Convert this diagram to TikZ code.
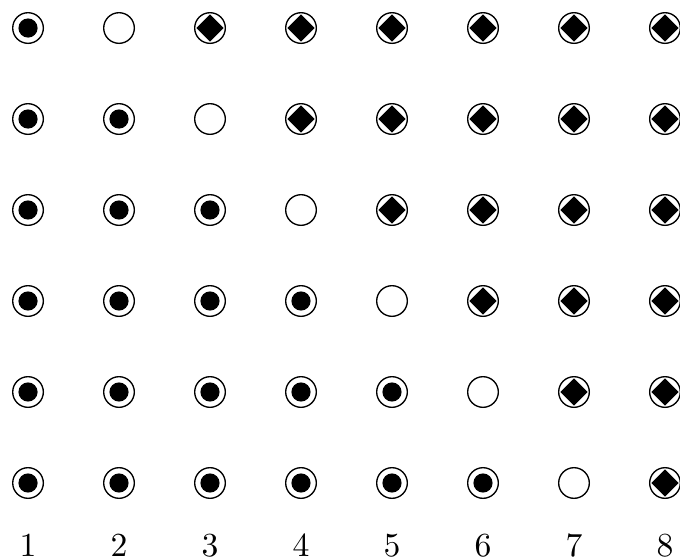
\documentclass[tikz,border=0pt]{standalone}
\usetikzlibrary{shapes.geometric}

\begin{document}
\begin{tikzpicture}[
  x=0.95cm, y=0.95cm,
  ring/.style={draw, circle, inner sep=0pt, minimum size=3.2mm},
  dot/.style={circle, fill=black, inner sep=0pt, minimum size=2mm},
  gem/.style={diamond, fill=black, inner sep=0pt, minimum size=2.9mm},
  num/.style={inner sep=0pt}
]
  \useasboundingbox (-0.308,-0.824) rectangle (7.165,5.308);

  % rings, row 1 on top; the empty one walks along the diagonal
  \foreach \r in {1,...,6}{
    \foreach \c in {1,...,8}{
      \node[ring] (p-\r-\c) at (\c-1,6-\r) {};
      \ifnum\c<\numexpr\r+1\relax
        \node[dot] (d-\r-\c) at (p-\r-\c.center) {};
      \fi
      \ifnum\c>\numexpr\r+1\relax
        \node[gem] (g-\r-\c) at (p-\r-\c.center) {};
      \fi
    }
  }

  % column numbers
  \foreach \c in {1,...,8}
    \node[num] (n-\c) at (\c-1,-0.687) {\c};
\end{tikzpicture}
\end{document}
